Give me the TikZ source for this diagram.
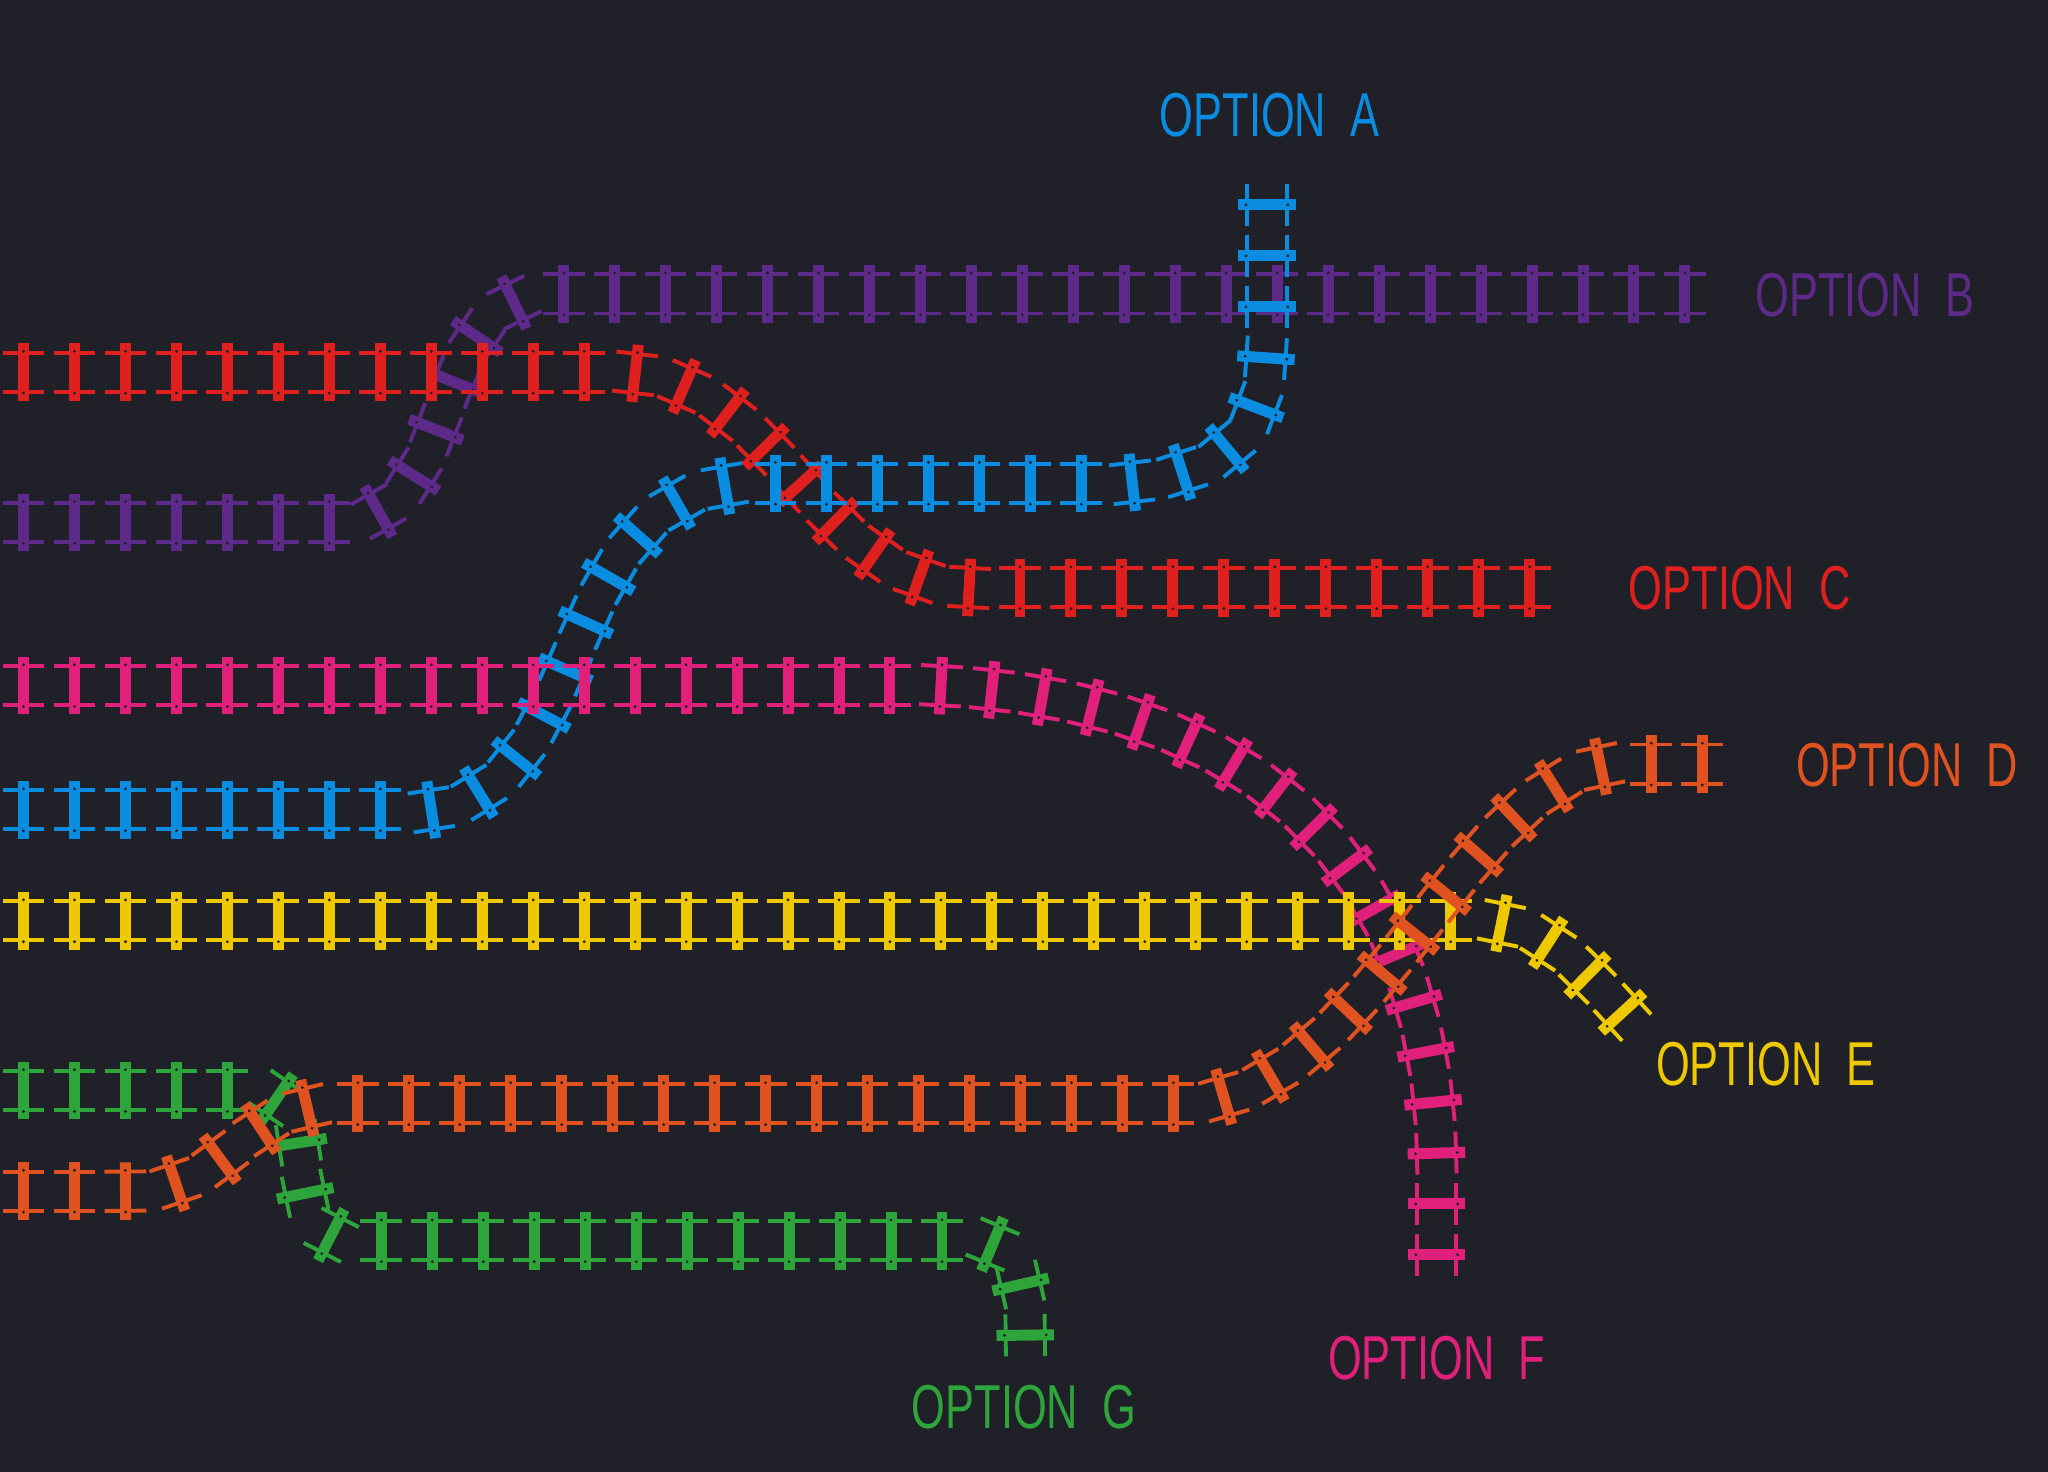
\documentclass[tikz,border=0pt]{standalone}
\usepackage{fontspec}
\setmainfont{Liberation Sans}
\usetikzlibrary{decorations.markings}
\definecolor{bgdark}{HTML}{202028}
\definecolor{railpurple}{HTML}{5E2A8A}
\definecolor{railred}{HTML}{E0201F}
\definecolor{railblue}{HTML}{0A8DE0}
\definecolor{railpink}{HTML}{E0207A}
\definecolor{railyellow}{HTML}{EEC800}
\definecolor{railorange}{HTML}{E0521F}
\definecolor{railgreen}{HTML}{2DA53A}

\begin{document}
\begin{tikzpicture}[
    x=0.01cm, y=-0.01cm,
    track/.style={
        postaction={decorate, decoration={markings,
            mark=between positions 0.18cm and 1 step 0.39cm with {
                \draw[#1, line width=0.03cm] (-0.16cm,0.15cm) -- (0.16cm,0.15cm)
                    (-0.16cm,-0.15cm) -- (0.16cm,-0.15cm);
                \fill[#1] (-0.042cm,-0.22cm) rectangle (0.042cm,0.22cm);
                \fill[bgdark] (0,0.16cm) circle (0.012cm) (0,-0.16cm) circle (0.012cm);
            }}}
    },
    optlabel/.style={font=\fontsize{13.5}{15}\selectfont, xscale=0.7, text=#1},
]
\useasboundingbox[fill=bgdark] (0,0) rectangle (1568,1127);

% Option B
\path[track=railpurple] (0,400) -- (255,400) .. controls (360,400) and (320,225) .. (425,225) -- (1302,225);
% Option C
\path[track=railred] (0,285) -- (470,285) .. controls (600,285) and (620,450) .. (750,450) -- (1207,450);
% Option A
\path[track=railblue] (0,620) -- (330,620) .. controls (460,600) and (420,370) .. (580,370) -- (860,370) .. controls (970,360) and (970,300) .. (970,240) -- (970,135);
% Option F
\path[track=railpink] (0,525) -- (720,525) .. controls (1000,540) and (1100,700) .. (1100,900) -- (1100,992);
% Option E
\path[track=railyellow] (0,705) -- (1130,705) .. controls (1180,705) and (1210,740) .. (1245,778);
% Option G
\path[track=railgreen] (0,835) -- (190,835) .. controls (260,835) and (200,950) .. (275,950) -- (745,950) .. controls (780,950) and (785,985) .. (785,1028);
% Option D
\path[track=railorange] (0,912) -- (95,912) .. controls (180,912) and (180,845) .. (265,845) -- (900,845) .. controls (1050,845) and (1120,590) .. (1240,585) -- (1333,585);

% Labels
\node[optlabel=railblue] (labela) at (972,88) {OPTION\ \ A};
\node[optlabel=railpurple] (labelb) at (1428,226) {OPTION\ \ B};
\node[optlabel=railred] (labelc) at (1332,450) {OPTION\ \ C};
\node[optlabel=railorange] (labeld) at (1460,586) {OPTION\ \ D};
\node[optlabel=railyellow] (labele) at (1352,815) {OPTION\ \ E};
\node[optlabel=railpink] (labelf) at (1100,1040) {OPTION\ \ F};
\node[optlabel=railgreen] (labelg) at (784,1077) {OPTION\ \ G};
\end{tikzpicture}
\end{document}
